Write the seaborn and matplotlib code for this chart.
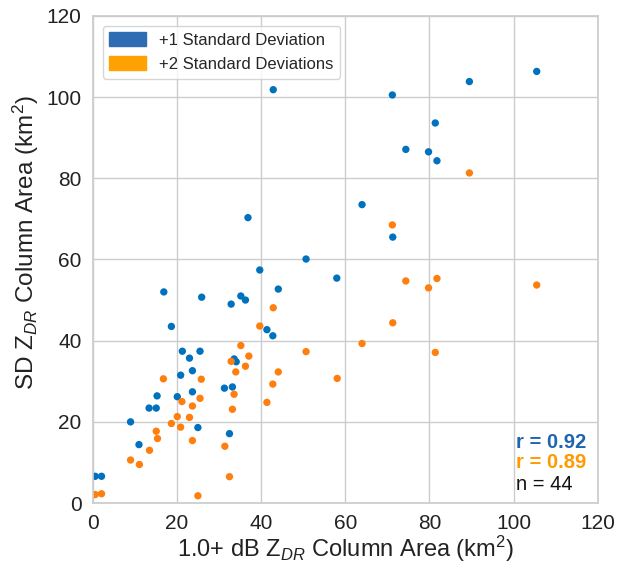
import pandas as pd
import seaborn as sns
import matplotlib.pyplot as plt
from matplotlib.patches import Patch

# +1 standard deviation points (x = 1.0+ dB ZDR column area, y = SD area)
sd1_x = [16.9, 25.9, 32.9, 35.2, 36.3, 39.7, 44.1, 18.7, 41.4, 42.8,
         21.3, 25.5, 23.0, 33.6, 34.1, 23.7, 20.9, 31.3, 33.2, 15.3,
         20.1, 23.7, 13.4, 15.1, 9.0, 25.0, 11.0, 32.5, 0.6, 2.1,
         105.5, 89.5, 71.2, 81.4, 74.4, 79.8, 81.8, 64.0, 71.3, 50.7,
         58.0, 42.9, 36.9]
sd1_y = [52.0, 50.7, 49.0, 51.0, 50.0, 57.4, 52.7, 43.5, 42.7, 41.2,
         37.4, 37.4, 35.7, 35.5, 34.8, 32.6, 31.5, 28.3, 28.6, 26.4,
         26.2, 27.4, 23.4, 23.4, 20.0, 18.6, 14.4, 17.1, 6.6, 6.6,
         106.3, 103.8, 100.5, 93.6, 87.1, 86.5, 84.3, 73.5, 65.5, 60.1,
         55.4, 101.8, 70.3]

# +2 standard deviation points
sd2_x = [42.9, 39.7, 35.2, 37.1, 32.9, 36.3, 34.0, 44.1, 16.8, 25.8,
         42.8, 33.6, 21.2, 25.5, 23.7, 33.2, 41.4, 20.1, 23.0, 18.7,
         20.9, 15.1, 15.4, 23.7, 13.5, 9.0, 11.1, 31.4, 32.5, 0.6,
         2.1, 25.0, 89.5, 71.2, 74.4, 81.8, 79.8, 105.5, 50.7, 58.1,
         64.0, 71.3, 81.4]
sd2_y = [48.1, 43.6, 38.8, 36.2, 34.9, 33.7, 32.3, 32.3, 30.6, 30.5,
         29.3, 26.8, 25.0, 25.8, 23.9, 23.1, 24.8, 21.3, 21.1, 19.6,
         18.7, 17.7, 15.9, 15.4, 13.0, 10.6, 9.5, 14.0, 6.5, 2.1,
         2.3, 1.8, 81.3, 68.5, 54.7, 55.3, 53.0, 53.7, 37.3, 30.7,
         39.3, 44.4, 37.1]

labels = ["+1 Standard Deviation", "+2 Standard Deviations"]
r_values = [0.92, 0.89]
n_cases = 44
ticks = [0, 20, 40, 60, 80, 100, 120]

dot_colors = ["#0071bd", "#ff7f0e"]
patch_colors = ["#2e6db4", "#ffa100"]
text_colors = ["#1f64b0", "#ff9a00"]

df = pd.concat([
    pd.DataFrame({"x": sd1_x, "y": sd1_y, "group": labels[0]}),
    pd.DataFrame({"x": sd2_x, "y": sd2_y, "group": labels[1]}),
])

sns.set_theme(style="whitegrid")
plt.rcParams["font.family"] = ["Liberation Sans", "DejaVu Sans"]
plt.rcParams["mathtext.fontset"] = "custom"
plt.rcParams["mathtext.rm"] = "Liberation Sans"
plt.rcParams["mathtext.it"] = "Liberation Sans:italic"

fig = plt.figure(figsize=(6.22, 5.64), dpi=100)
ax = fig.add_axes([0.149, 0.108, 0.812, 0.864])

sns.scatterplot(data=df, x="x", y="y", hue="group", palette=dot_colors,
                s=28, linewidth=0, legend=False, ax=ax)

ax.set_xlim(0, 120)
ax.set_ylim(0, 120)
ax.set_xticks(ticks)
ax.set_yticks(ticks)
ax.tick_params(labelsize=15, colors="#222222", pad=2)
ax.set_xlabel(r"1.0+ dB Z$_{DR}$ Column Area (km$^2$)", fontsize=17,
              color="#222222")
ax.xaxis.set_label_coords(0.5, -0.111)
ax.xaxis.label.set_va("baseline")
ax.set_ylabel(r"SD Z$_{DR}$ Column Area (km$^2$)", fontsize=17.5,
              color="#222222")
ax.yaxis.set_label_coords(-0.103, 0.535)
for sp in ax.spines.values():
    sp.set_color("#cccccc")

handles = [Patch(facecolor=c, edgecolor=c) for c in patch_colors]
ax.legend(handles, labels, loc="upper left", fontsize=12,
          handlelength=2.2, handleheight=0.9, borderaxespad=0.6,
          frameon=True)

ax.text(0.838, 0.125, f"r = {r_values[0]:.2f}", transform=ax.transAxes,
        color=text_colors[0], fontsize=14.5, fontweight="bold", va="center")
ax.text(0.838, 0.084, f"r = {r_values[1]:.2f}", transform=ax.transAxes,
        color=text_colors[1], fontsize=14.5, fontweight="bold", va="center")
ax.text(0.838, 0.039, f"n = {n_cases}", transform=ax.transAxes,
        color="#111111", fontsize=14.5, va="center")

fig.savefig("out.png", dpi=100)
